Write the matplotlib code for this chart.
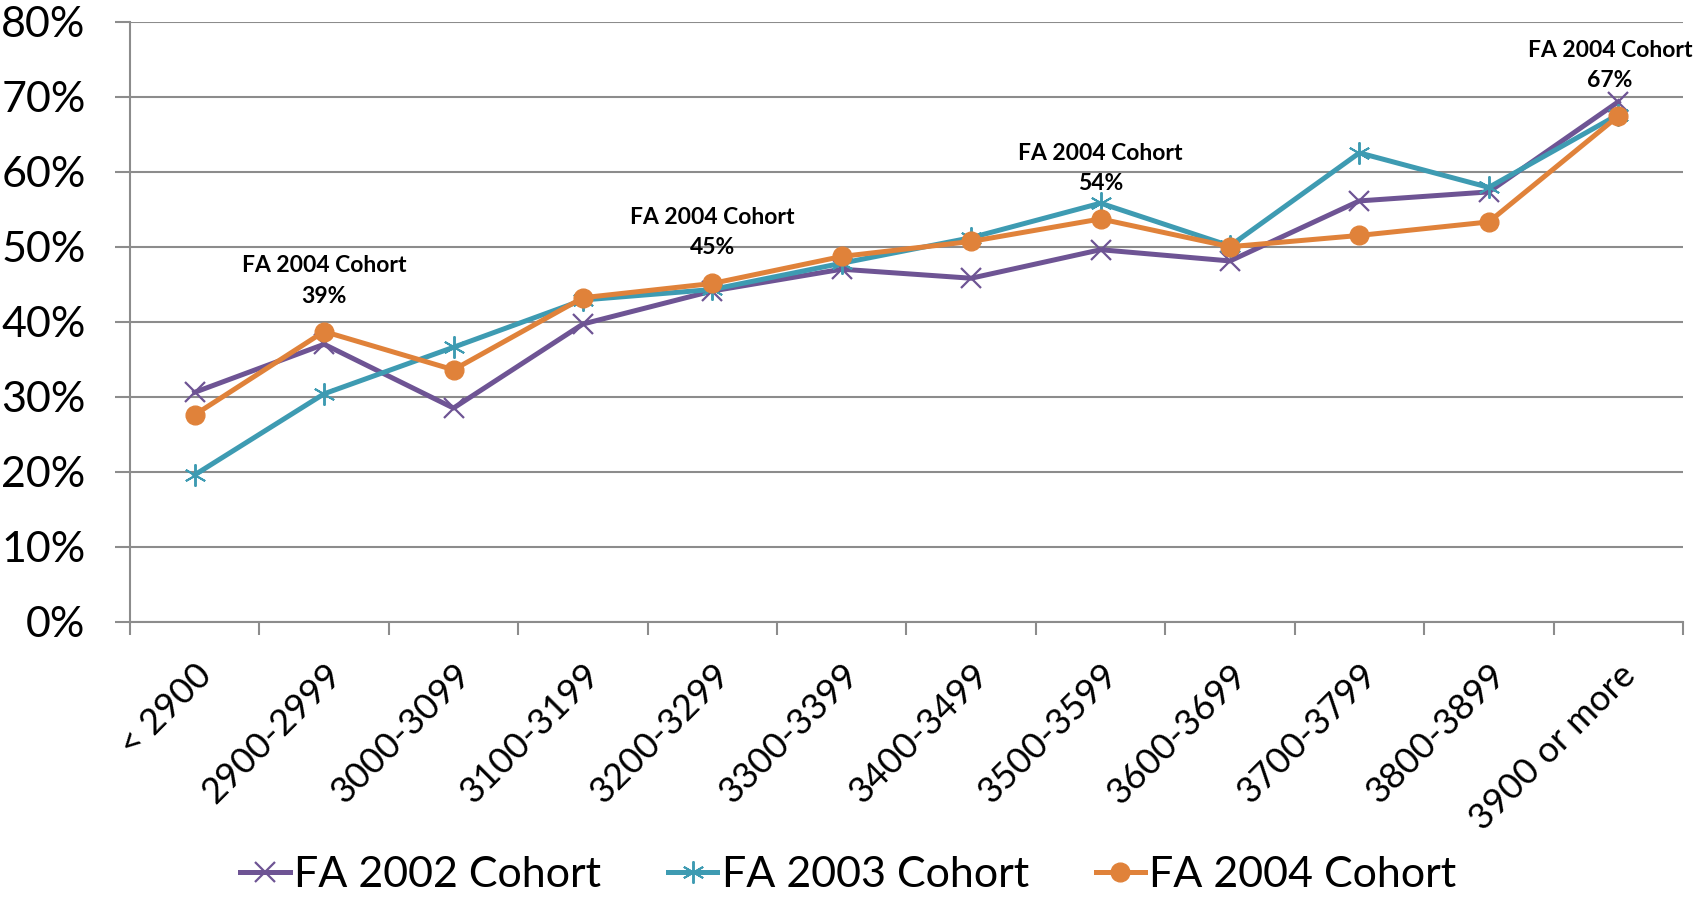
import matplotlib
matplotlib.use("Agg")
import matplotlib.pyplot as plt
from matplotlib.ticker import FixedLocator, PercentFormatter

plt.rcParams['font.family'] = ['Lato', 'DejaVu Sans']

categories = ["< 2900", "2900-2999", "3000-3099", "3100-3199", "3200-3299",
              "3300-3399", "3400-3499", "3500-3599", "3600-3699", "3700-3799",
              "3800-3899", "3900 or more"]
fa2002 = [30.6, 37.0, 28.5, 39.7, 44.1, 47.0, 45.8, 49.6, 48.1, 56.1, 57.3, 69.3]
fa2003 = [19.6, 30.4, 36.6, 42.9, 44.3, 47.8, 51.2, 55.8, 50.1, 62.5, 57.9, 67.6]
fa2004 = [27.6, 38.7, 33.6, 43.2, 45.1, 48.7, 50.7, 53.7, 50.0, 51.5, 53.3, 67.4]
annot_idx = [1, 4, 7, 11]
annot_text = ["FA 2004 Cohort\n39%", "FA 2004 Cohort\n45%",
              "FA 2004 Cohort\n54%", "FA 2004 Cohort\n67%"]
yticks = [0, 10, 20, 30, 40, 50, 60, 70, 80]

purple = '#6E5494'
teal = '#3E9BB2'
orange = '#E0823A'
grid = '#8C8C8C'

fig = plt.figure(figsize=(16.97, 8.97), dpi=100)
ax = fig.add_axes([0.0766, 0.3066, 0.9151, 0.6694])

x = list(range(len(categories)))
ax.plot(x, fa2002, color=purple, lw=3.6, marker='x', ms=14, mew=1.6,
        label='FA 2002 Cohort', zorder=3)
ax.plot(x, fa2003, color=teal, lw=3.6, marker=(6, 2, 0), ms=16, mew=1.4,
        label='FA 2003 Cohort', zorder=4)
ax.plot(x, fa2004, color=orange, lw=3.6, marker='o', ms=13.5,
        label='FA 2004 Cohort', zorder=5)

for i, t in zip(annot_idx, annot_text):
    dx = -6 if i == len(categories) - 1 else 0
    ax.annotate(t, (x[i], fa2004[i]), xytext=(dx, 18), textcoords='offset points',
                ha='center', va='bottom', fontsize=16.5, fontweight='bold',
                linespacing=1.55, multialignment='center', annotation_clip=False)

ax.set_xlim(-0.5, len(categories) - 0.5)
ax.set_ylim(0, 80)
ax.set_yticks(yticks)
ax.yaxis.set_major_formatter(PercentFormatter(decimals=0))
ax.set_xticks(x)
ax.set_xticklabels(categories, rotation=45, ha='right', rotation_mode='anchor')
ax.xaxis.set_minor_locator(FixedLocator([k - 0.5 for k in range(len(categories) + 1)]))
ax.tick_params(axis='x', which='major', length=0, labelsize=26, pad=26)
ax.tick_params(axis='x', which='minor', length=9, width=1.5, color=grid, direction='out')
ax.tick_params(axis='y', length=11, width=1.5, color=grid, labelsize=31, pad=21)

ax.grid(axis='y', color=grid, lw=1.5)
ax.set_axisbelow(True)
for s in ['top', 'right']:
    ax.spines[s].set_visible(False)
for s in ['left', 'bottom']:
    ax.spines[s].set_color(grid)
    ax.spines[s].set_linewidth(1.5)

fig.legend(loc='center', bbox_to_anchor=(0.5, 0.024), ncol=3, frameon=False,
           fontsize=31, handlelength=1.15, handletextpad=0.1, columnspacing=1.55)

fig.savefig('out.png', dpi=100)
